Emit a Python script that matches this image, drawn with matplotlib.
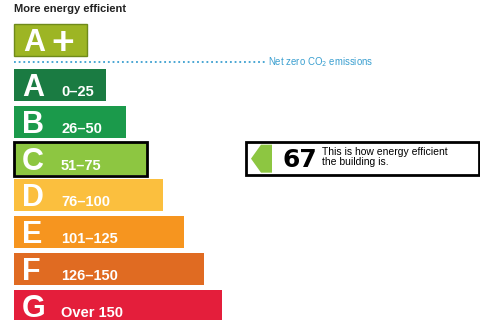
import matplotlib.pyplot as plt
from matplotlib.patches import Rectangle, Polygon

# rating bands
bands = ['A', 'B', 'C', 'D', 'E', 'F', 'G']
ranges = ['0–25', '26–50', '51–75', '76–100', '101–125', '126–150', 'Over 150']
bar_lengths = [92, 112, 133, 149, 170, 190, 208]
colors = ['#1a7b42', '#1b9a4b', '#8dc641', '#fbbf3e', '#f6951f', '#e06b22', '#e41e3b']
score = 67
score_band = 'C'

plt.rcParams['font.family'] = ['Liberation Sans', 'DejaVu Sans']

fig = plt.figure(figsize=(4.8, 3.2), dpi=100)
ax = fig.add_axes([0, 0, 1, 1])
ax.set_xlim(0, 480)
ax.set_ylim(320, 0)
ax.axis('off')

x0 = 14
row_h = 32
first_top = 69
step = 36.83

ax.text(x0, 12, 'More energy efficient', fontsize=8, fontweight='bold',
        color='#222222', va='baseline', ha='left')

# A+ band
ax.add_patch(Rectangle((x0, 24), 73, 32, facecolor='#9db524',
                       edgecolor='#6f8a1a', lw=1))
ax.text(x0 + 9, 51, 'A', fontsize=22, fontweight='bold', color='white',
        va='baseline', ha='left')
ax.text(x0 + 49, 40, '+', fontsize=28, fontweight='bold', color='white',
        va='center_baseline', ha='center')

# net zero line
ax.plot([x0, 265], [62, 62], ls=(0, (1, 1.6)), color='#3a9fd0', lw=1.3)
ax.text(268, 62, r'Net zero CO$_2$ emissions', fontsize=6.9, color='#3a9fd0',
        va='center', ha='left')

tops = [first_top + i * step for i in range(len(bands))]
centers = [t + row_h / 2 for t in tops]
ax.barh(centers, bar_lengths, left=x0, height=row_h, color=colors)
for t, b, r, L in zip(tops, bands, ranges, bar_lengths):
    ax.text(x0 + 8, t + 27, b, fontsize=22, fontweight='bold', color='white',
            va='baseline', ha='left')
    ax.text(x0 + 47, t + 27, r, fontsize=10.5, fontweight='bold',
            color='white', va='baseline', ha='left')
    if b == score_band:
        ax.add_patch(Rectangle((x0 - 0.5, t - 0.5), L + 0.5, row_h + 1.5,
                               fill=False, edgecolor='black', lw=2))

# score indicator
ci = centers[bands.index(score_band)]
ax.add_patch(Rectangle((246, ci - 16.5), 233, 32.5, facecolor='white',
                       edgecolor='black', lw=2))
arrow_col = colors[bands.index(score_band)]
ax.add_patch(Polygon([(251, ci), (261, ci - 14), (272, ci - 14),
                      (272, ci + 14), (261, ci + 14)],
                     closed=True, facecolor=arrow_col, edgecolor='none'))
ax.text(282, ci + 8.5, str(score), fontsize=18, fontweight='bold', color='black',
        va='baseline', ha='left', family=['DejaVu Sans'])
ax.text(322, ci - 3.5, 'This is how energy efficient', fontsize=7.5,
        color='black', va='baseline', ha='left')
ax.text(322, ci + 6.5, 'the building is.', fontsize=7.5,
        color='black', va='baseline', ha='left')

fig.savefig('out.png', dpi=100)
